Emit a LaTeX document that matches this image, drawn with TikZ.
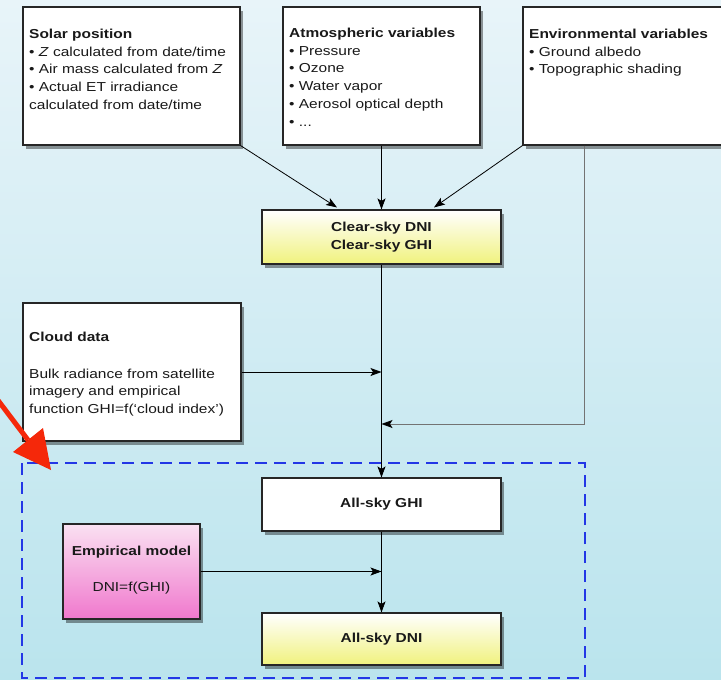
\documentclass[tikz,border=0pt]{standalone}
\usepackage{fontspec}
\setmainfont{Liberation Sans}[FakeStretch=1.19]
\usetikzlibrary{shadows,arrows.meta,calc}
\definecolor{bgtop}{RGB}{232,244,249}
\definecolor{bgbot}{RGB}{186,228,237}
\definecolor{yelbot}{RGB}{240,242,125}
\definecolor{pinktop}{RGB}{250,225,242}
\definecolor{pinkbot}{RGB}{240,120,205}
\definecolor{dashblue}{RGB}{35,55,230}
\definecolor{redarrow}{RGB}{245,40,10}
\definecolor{txtcol}{RGB}{25,25,25}
\begin{document}
\begin{tikzpicture}[x=1pt,y=-1pt,
  box/.style={draw=black!85, line width=1.1pt, fill=white, inner sep=0pt,
    drop shadow={shadow xshift=3pt, shadow yshift=-4pt, opacity=0.4, fill=black}},
  txt/.style={inner sep=0pt, align=left, anchor=north west,
    font=\fontsize{13}{17.9}\selectfont, text=txtcol},
  ctxt/.style={inner sep=0pt, align=center,
    font=\fontsize{13}{17.9}\selectfont\bfseries, text=txtcol},
  arr/.style={-{Stealth[length=11pt,width=8pt,inset=2.5pt,color=black]}, line width=0.8pt},
]
% background
\shade[top color=bgtop, bottom color=bgbot] (0,0) rectangle (721,680);
\path[use as bounding box] (0,0) rectangle (721,680);

% dashed region
\draw[dashblue, line width=1.6pt, dash pattern=on 12pt off 7pt] (22,463) rectangle (585,678);

% boxes
\node[box, minimum width=217pt, minimum height=138pt] (solar) at (131.5,76) {};
\node[box, minimum width=197pt, minimum height=138pt] (atm) at (381.5,76) {};
\node[box, minimum width=222pt, minimum height=138pt] (env) at (634,76) {};
\node[box, top color=white, bottom color=yelbot, minimum width=239pt, minimum height=54pt] (clear) at (381.5,237) {};
\node[box, minimum width=218pt, minimum height=138pt] (cloud) at (132,372) {};
\node[box, minimum width=239pt, minimum height=53pt] (ghi) at (381.5,504.5) {};
\node[box, top color=pinktop, bottom color=pinkbot, minimum width=137pt, minimum height=95pt] (emp) at (131.5,571.5) {};
\node[box, top color=white, bottom color=yelbot, minimum width=239pt, minimum height=52pt] (dni) at (381.5,639) {};

% texts
\node[txt] (solart) at (29,28.5) {\textbf{Solar position}\\
• \textit{Z} calculated from date/time\\
• Air mass calculated from \textit{Z}\\
• Actual ET irradiance\\
calculated from date/time};
\node[txt] (atmt) at (289,27.5) {\textbf{Atmospheric variables}\\
• Pressure\\
• Ozone\\
• Water vapor\\
• Aerosol optical depth\\
• ...};
\node[txt] (envt) at (529,28.5) {\textbf{Environmental variables}\\
• Ground albedo\\
• Topographic shading};
\node[txt] (cloudt) at (29,331.5) {\textbf{Cloud data}\\[19pt]
Bulk radiance from satellite\\
imagery and empirical\\
function GHI=f(`cloud index')};
\node[ctxt] (cleart) at (clear.center) {Clear-sky DNI\\Clear-sky GHI};
\node[ctxt] (ghit) at (ghi.center) {All-sky GHI};
\node[ctxt] (dnit) at (dni.center) {All-sky DNI};
\node[ctxt, font=\fontsize{13}{17.9}\selectfont] (empt) at (131.5,570) {\textbf{Empirical model}\\[18.3pt]DNI=f(GHI)};

% connectors
\coordinate (c1) at ($(clear.north)+(-44.5,-2)$);
\coordinate (c3) at ($(clear.north)+(52.5,-2)$);
\coordinate (envdrop) at ($(env.south west)+(62,0)$);
\coordinate (join) at (clear.south |- 0,424);
\draw[arr] (solar.south east) -- (c1);
\draw[arr] (atm.south) -- (clear.north);
\draw[arr] (env.south west) -- (c3);
\draw[arr] (clear.south) -- (ghi.north);
\draw[arr] (cloud.east) -- (cloud.east -| clear.south);
\draw[arr, draw=black!55] (envdrop) |- (join);
\draw[arr] (ghi.south) -- (dni.north);
\draw[arr] (emp.east) -- (emp.east -| ghi.south);

% red arrow
\coordinate (rstart) at (-6,395);
\coordinate (rbase) at (28,440);
\coordinate (rtip) at (51,470);
\draw[redarrow, line width=5pt] (rstart) -- (rbase);
\fill[redarrow] (rtip) -- (13,452) -- (43,428) -- cycle;
\end{tikzpicture}
\end{document}
